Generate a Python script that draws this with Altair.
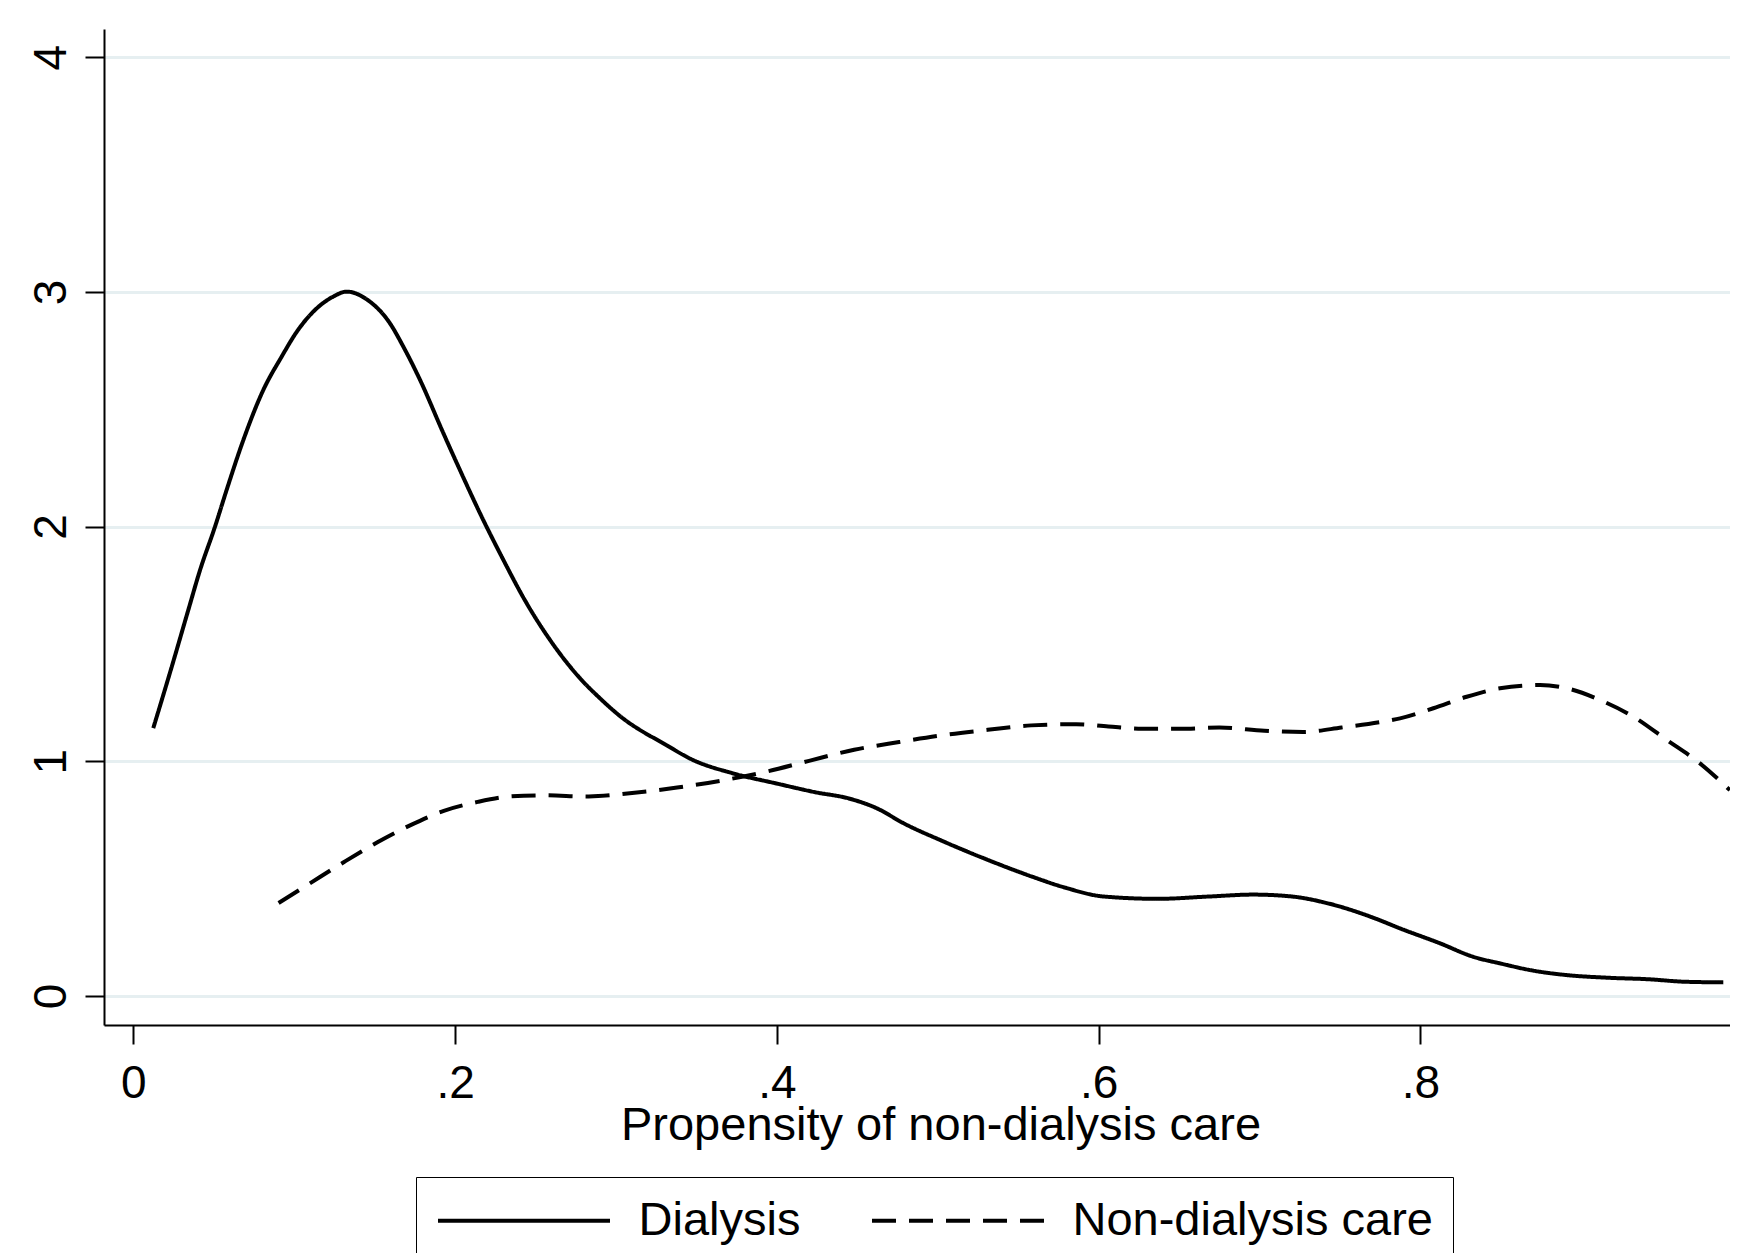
import altair as alt
import pandas as pd

# Dialysis (solid) density curve
dial_x = [0.0124, 0.0239, 0.0342, 0.0415, 0.0508, 0.058, 0.0684, 0.0808, 0.0922, 0.1016,
          0.1119, 0.1243, 0.1326, 0.1451, 0.1595, 0.1678, 0.1782, 0.1927, 0.203, 0.2175,
          0.2279, 0.2445, 0.259, 0.2776, 0.2901, 0.303, 0.331, 0.348, 0.372, 0.40,
          0.424, 0.4445, 0.462, 0.479, 0.503, 0.531, 0.558, 0.579, 0.603, 0.637,
          0.669, 0.696, 0.720, 0.744, 0.772, 0.7873, 0.8121, 0.8328, 0.8494, 0.8701,
          0.8909, 0.9157, 0.9426, 0.9633, 0.9882]
dial_y = [1.141, 1.403, 1.645, 1.815, 2.000, 2.156, 2.369, 2.582, 2.724, 2.830,
          2.916, 2.980, 3.001, 2.968, 2.866, 2.767, 2.625, 2.398, 2.241, 2.028,
          1.886, 1.673, 1.517, 1.354, 1.268, 1.19, 1.07, 1.005, 0.95, 0.905,
          0.868, 0.842, 0.80, 0.735, 0.66, 0.58, 0.51, 0.462, 0.424, 0.414,
          0.424, 0.432, 0.424, 0.392, 0.33, 0.288, 0.2245, 0.167, 0.139, 0.108,
          0.089, 0.078, 0.071, 0.061, 0.058]

# Non-dialysis care (dashed) density curve
nond_x = [0.0903, 0.110, 0.131, 0.152, 0.172, 0.193, 0.214, 0.234, 0.255, 0.283,
          0.310, 0.338, 0.365, 0.393, 0.420, 0.448, 0.476, 0.503, 0.531, 0.558,
          0.586, 0.606, 0.627, 0.655, 0.675, 0.703, 0.727, 0.751, 0.779, 0.7873,
          0.808, 0.8287, 0.8494, 0.8743, 0.8909, 0.9116, 0.9323, 0.953, 0.9737, 0.9923]
nond_y = [0.396, 0.481, 0.571, 0.656, 0.727, 0.789, 0.827, 0.850, 0.855, 0.850,
          0.865, 0.888, 0.917, 0.955, 1.002, 1.049, 1.082, 1.111, 1.134, 1.153,
          1.158, 1.148, 1.139, 1.139, 1.144, 1.130, 1.125, 1.144, 1.172, 1.183,
          1.226, 1.275, 1.311, 1.325, 1.311, 1.261, 1.190, 1.091, 0.991, 0.877]

groups = ["Dialysis", "Non-dialysis care"]
x_ticks = [0, 0.2, 0.4, 0.6, 0.8]
y_ticks = [0, 1, 2, 3, 4]

df = pd.concat([
    pd.DataFrame({"x": dial_x, "y": dial_y, "group": groups[0], "order": range(len(dial_x))}),
    pd.DataFrame({"x": nond_x, "y": nond_y, "group": groups[1], "order": range(len(nond_x))}),
])

FONT = "Liberation Sans"
FS = 46

chart = alt.Chart(df).mark_line(color="black", strokeWidth=4, clip=True,
                                interpolate="monotone").encode(
    x=alt.X("x:Q",
            scale=alt.Scale(domain=[-0.01821, 0.99236], nice=False, zero=False),
            axis=alt.Axis(values=x_ticks,
                          labelExpr="datum.value == 0 ? '0' : replace(format(datum.value, '.1f'), '0.', '.')",
                          title="Propensity of non-dialysis care",
                          titleX=836.5, titleY=114, titleAlign="center",
                          titleBaseline="alphabetic", titleFontSize=47,
                          labelPadding=17, grid=False)),
    y=alt.Y("y:Q",
            scale=alt.Scale(domain=[-0.1236, 4.120], nice=False, zero=False),
            axis=alt.Axis(values=y_ticks, format="d", title=None,
                          labelAngle=270, labelAlign="center", labelBaseline="bottom",
                          labelPadding=10, grid=True, gridColor="#E6EFF1",
                          gridWidth=3)),
    strokeDash=alt.StrokeDash("group:N",
                              scale=alt.Scale(domain=groups, range=[[1, 0], [24, 13]]),
                              legend=alt.Legend(title=None, orient="none",
                                                legendX=312, legendY=1148,
                                                direction="horizontal",
                                                symbolType="M-4,0H4", symbolSize=1849,
                                                symbolOffset=64.5,
                                                symbolStrokeWidth=4,
                                                symbolStrokeColor="black",
                                                labelFont=FONT, labelFontSize=47,
                                                labelColor="black", labelLimit=800,
                                                labelOffset=91, columnPadding=63,
                                                padding=20, strokeColor="black")),
    order="order:Q",
).properties(
    width=1626, height=996,
    autosize=alt.AutoSizeParams(type="none"),
    padding={"left": 96, "top": 21, "right": 0, "bottom": 228},
).configure_axis(
    labelFont=FONT, labelFontSize=FS, labelColor="black",
    titleFont=FONT, titleFontSize=FS, titleColor="black", titleFontWeight="normal",
    domainColor="black", domainWidth=2, tickColor="black", tickWidth=2, tickSize=19,
    labelOverlap=False, labelFlush=False,
).configure_view(stroke="transparent")

chart.save("out.html", embed_options={"renderer": "svg", "actions": False})
